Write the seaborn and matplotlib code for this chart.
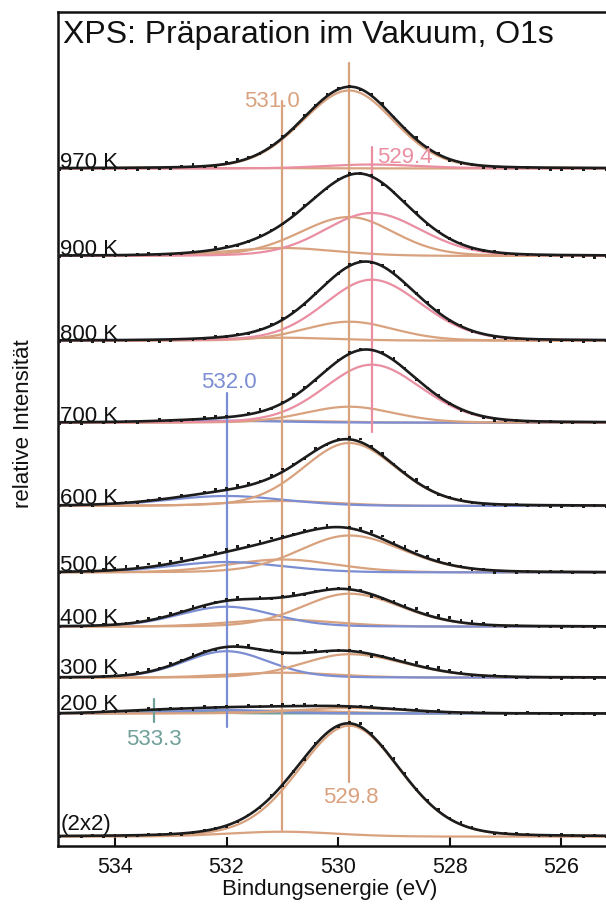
import numpy as np
import pandas as pd
import matplotlib
matplotlib.use("Agg")
import matplotlib.pyplot as plt
import seaborn as sns

# ---------------- data ----------------
spectra = ["970 K", "900 K", "800 K", "700 K", "600 K", "500 K", "400 K", "300 K", "200 K", "(2x2)"]

# component centres (eV)
centres = {"A": 529.8, "B": 529.4, "C": 531.0, "D": 532.0, "E": 533.3}

# component heights (relative intensity units) per spectrum
h_A = [78, 39, 19, 16, 63, 37, 33, 23.5, 5.5, 111]   # 529.8
h_B = [4, 43, 61, 58, 0, 0, 0, 0, 0, 0]              # 529.4
h_C = [0.5, 8, 3, 2, 5, 13, 7, 5, 3, 5]              # 531.0
h_D = [0, 0, 0, 2, 10, 10.5, 20, 26.5, 3.5, 0]       # 532.0
h_E = [0, 0, 0, 0, 0, 0, 0, 0, 2.5, 0]               # 533.3

# half widths (eV): left = higher binding energy side, right = lower
wA_left = [1.0, 1.05, 0.95, 0.95, 0.98, 1.05, 1.0, 1.0, 1.1, 1.07]
wA_right = [0.95, 0.95, 0.95, 0.95, 1.0, 1.15, 1.1, 1.2, 1.2, 1.07]
wB_left, wB_right = 1.0, 1.05
wC = 1.15
wD = [1.2, 1.2, 1.2, 1.2, 1.25, 1.2, 1.0, 0.9, 1.0, 1.0]
wE = 0.9

# measured points: deviation of each point from the fit (index 0 at 525.2 eV, step 0.2 eV)
resid = {
    "970 K": [-2,-1,-2,-1,-2,-2,-1,0,-1,-2,-1,-2,0,-1,-1,1,1,2,1,0,2,1,-1,0,1,2,0,1,-1,2,1,0,1,2,1,-1,0,2,1,-1,-1,-1,-2,-1,-2,-1,-2,-2,-1,-2],
    "900 K": [-1,-2,-1,-1,-2,-1,-1,0,-1,0,1,0,-1,1,0,1,-1,1,2,0,-1,1,0,2,1,-1,0,1,2,0,1,1,0,-1,1,2,0,1,0,-1,0,1,0,-1,0,-1,0,-1,0,-1],
    "800 K": [-1,-1,-2,-1,-1,-2,-1,-1,0,-1,-2,0,-1,1,0,2,1,0,-1,2,1,0,1,2,0,1,0,-1,1,2,1,0,-1,1,0,1,0,-1,0,-1,-2,-1,0,-1,-2,-1,-1,0,-1,-1],
    "700 K": [0,-1,0,-1,-1,0,-1,-1,0,-1,-2,-1,0,-2,0,1,0,-1,1,2,1,0,1,2,1,0,-1,1,2,1,0,2,1,0,1,2,1,0,-1,0,1,0,-1,0,-1,-1,0,-1,0,-1],
    "600 K": [-1,0,-1,0,-1,-1,0,-1,0,-1,0,-1,0,1,0,-1,1,2,1,0,2,1,3,2,1,0,2,-1,1,3,2,1,2,2,1,2,1,0,1,0,1,0,-1,0,1,0,-1,0,-1,0],
    "500 K": [0,-1,0,-1,0,0,-1,0,-1,0,-2,0,-1,0,1,2,2,3,3,2,3,3,2,1,0,2,1,2,0,2,3,2,1,3,2,2,1,0,3,2,2,3,2,3,2,1,0,-1,0,-1],
    "400 K": [0,-1,0,0,-1,0,-1,0,0,-1,0,1,2,2,3,3,2,3,2,1,0,-2,1,2,0,1,0,-1,2,1,0,1,0,2,1,0,-1,2,1,2,1,2,1,0,2,1,0,-1,0,-1],
    "300 K": [0,-1,0,0,-1,0,0,-1,-1,0,1,-1,-1,1,2,3,2,3,2,1,0,-2,1,1,0,-1,2,1,0,-1,1,0,2,1,0,-1,1,2,1,2,1,2,1,2,1,0,-1,0,-1,0],
    "200 K": [0,-1,0,0,-1,0,0,1,0,-1,0,1,0,-1,0,1,0,1,0,1,0,1,0,-1,1,0,1,2,1,2,1,0,1,0,1,0,1,-1,0,1,0,1,0,-1,0,1,0,-1,0,-1],
    "(2x2)": [-1,0,-1,0,1,0,-1,0,1,0,-1,0,1,2,1,2,1,0,2,3,1,2,3,1,-1,0,1,-2,0,-1,1,-1,0,-1,-1,0,1,0,-1,1,0,1,0,-1,0,-1,0,-1,0,-1],
}

# labelled peak positions (eV)
marks = [531.0, 529.8, 529.4, 532.0, 533.3]
mark_labels = ["531.0", "529.8", "529.4", "532.0", "533.3"]

# ---------------- layout / style ----------------
offsets = [677.5, 590, 505.3, 423.3, 340, 273.5, 219.3, 168.3, 132.5, 9.3]
label_dy = [1, 1, 1, 1, 2, 2, 3, 4, 3, 7]
C_OR = "#D9A27E"
C_PK = "#EA8EA2"
C_BL = "#7B8ED3"
C_GR = "#6FA099"
C_FIT = "#1c1c1c"

sns.set_theme(style="white")
plt.rcParams["font.family"] = ["Liberation Sans", "DejaVu Sans"]
plt.rcParams["axes.linewidth"] = 1.8

fig = plt.figure(figsize=(6.06, 9.09), dpi=100)
ax = fig.add_axes([58 / 606, 1 - 846 / 909, (606 - 58) / 606, (846 - 11.7) / 909])

XMIN, XMAX = 525.2, 535.02
x = np.linspace(XMIN, XMAX, 700)
xd = np.round(np.arange(525.2, 535.01, 0.2), 2)


def peak(e, c, h, wl, wr, eta=0.15):
    w = np.where(e > c, wl, wr)
    u = (e - c) / w
    return h * ((1 - eta) * np.exp(-np.log(2) * u ** 2) + eta / (1 + u ** 2))


def line(xx, yy, color, lw, z):
    sns.lineplot(x=xx, y=yy, color=color, linewidth=lw, ax=ax, estimator=None,
                 sort=False, zorder=z, legend=False)


for i, name in enumerate(spectra):
    off = offsets[i]
    comps = [
        (peak(x, centres["C"], h_C[i], wC, wC), C_OR, h_C[i]),
        (peak(x, centres["E"], h_E[i], wE, wE), C_GR, h_E[i]),
        (peak(x, centres["D"], h_D[i], wD[i], wD[i]), C_BL, h_D[i]),
        (peak(x, centres["A"], h_A[i], wA_left[i], wA_right[i]), C_OR, h_A[i]),
        (peak(x, centres["B"], h_B[i], wB_left, wB_right), C_PK, h_B[i]),
    ]
    total = np.zeros_like(x)
    for k, (yy, col, hh) in enumerate(comps):
        if hh <= 0:
            continue
        total += yy
        line(x, off + yy, col, 1.6, 3 + k * 0.1)
    line(x, off + total, C_FIT, 1.9, 5)

    # measured points
    td = (peak(xd, centres["C"], h_C[i], wC, wC) + peak(xd, centres["E"], h_E[i], wE, wE)
          + peak(xd, centres["D"], h_D[i], wD[i], wD[i])
          + peak(xd, centres["A"], h_A[i], wA_left[i], wA_right[i])
          + peak(xd, centres["B"], h_B[i], wB_left, wB_right))
    pts = pd.DataFrame({"e": xd, "y": off + td + np.array(resid[name], float)})
    sns.scatterplot(data=pts, x="e", y="y", marker="s", s=4, color=C_FIT,
                    edgecolor="none", ax=ax, zorder=6, legend=False)

    ax.text(534.98, off + label_dy[i], name, fontsize=16, ha="left", va="baseline",
            color="#111111", zorder=7)

# vertical peak markers (y ranges in axes units)
vspans = [(16, 745), (64.3, 783.3), (414, 699.3), (119, 453), (124.3, 147)]
vcols = [C_OR, C_OR, C_PK, C_BL, C_GR]
for m, (y0, y1), col in zip(marks, vspans, vcols):
    ax.plot([m, m], [y0, y1], color=col, lw=1.6, zorder=4)

# marker labels (x, y, ha)
lab_pos = [(531.18, 739.5, "center"), (529.78, 43, "center"), (529.3, 683, "left"),
           (531.96, 458, "center"), (533.3, 101, "center")]
for txt, (lx, ly, ha), col in zip(mark_labels, lab_pos, vcols):
    ax.text(lx, ly, txt, fontsize=16, color=col, ha=ha, va="baseline", zorder=7)

ax.set_xlim(XMAX, XMIN)
ax.set_ylim(0, 834.3)
ax.set_yticks([])
ax.set_xticks([534, 532, 530, 528, 526])
ax.set_xticklabels(["534", "532", "530", "528", "526"])
ax.tick_params(axis="x", direction="in", length=6.5, width=1.5, pad=8,
               labelsize=15.5, colors="#111111", bottom=True)
ax.spines["right"].set_visible(False)
for s in ["left", "top", "bottom"]:
    ax.spines[s].set_color("#111111")
ax.set_xlabel("")
ax.set_ylabel("")

fig.text(63 / 606, 1 - 43 / 909, "XPS: Präparation im Vakuum, O1s", fontsize=23,
         ha="left", va="baseline", color="#111111")
fig.text(330 / 606, 1 - 889 / 909, "Bindungsenergie (eV)", fontsize=16,
         ha="center", va="center", color="#111111")
fig.text(24 / 606, 1 - 424 / 909, "relative Intensität", fontsize=16, rotation=90,
         ha="center", va="center", color="#111111")

fig.savefig("out.png", dpi=100)
